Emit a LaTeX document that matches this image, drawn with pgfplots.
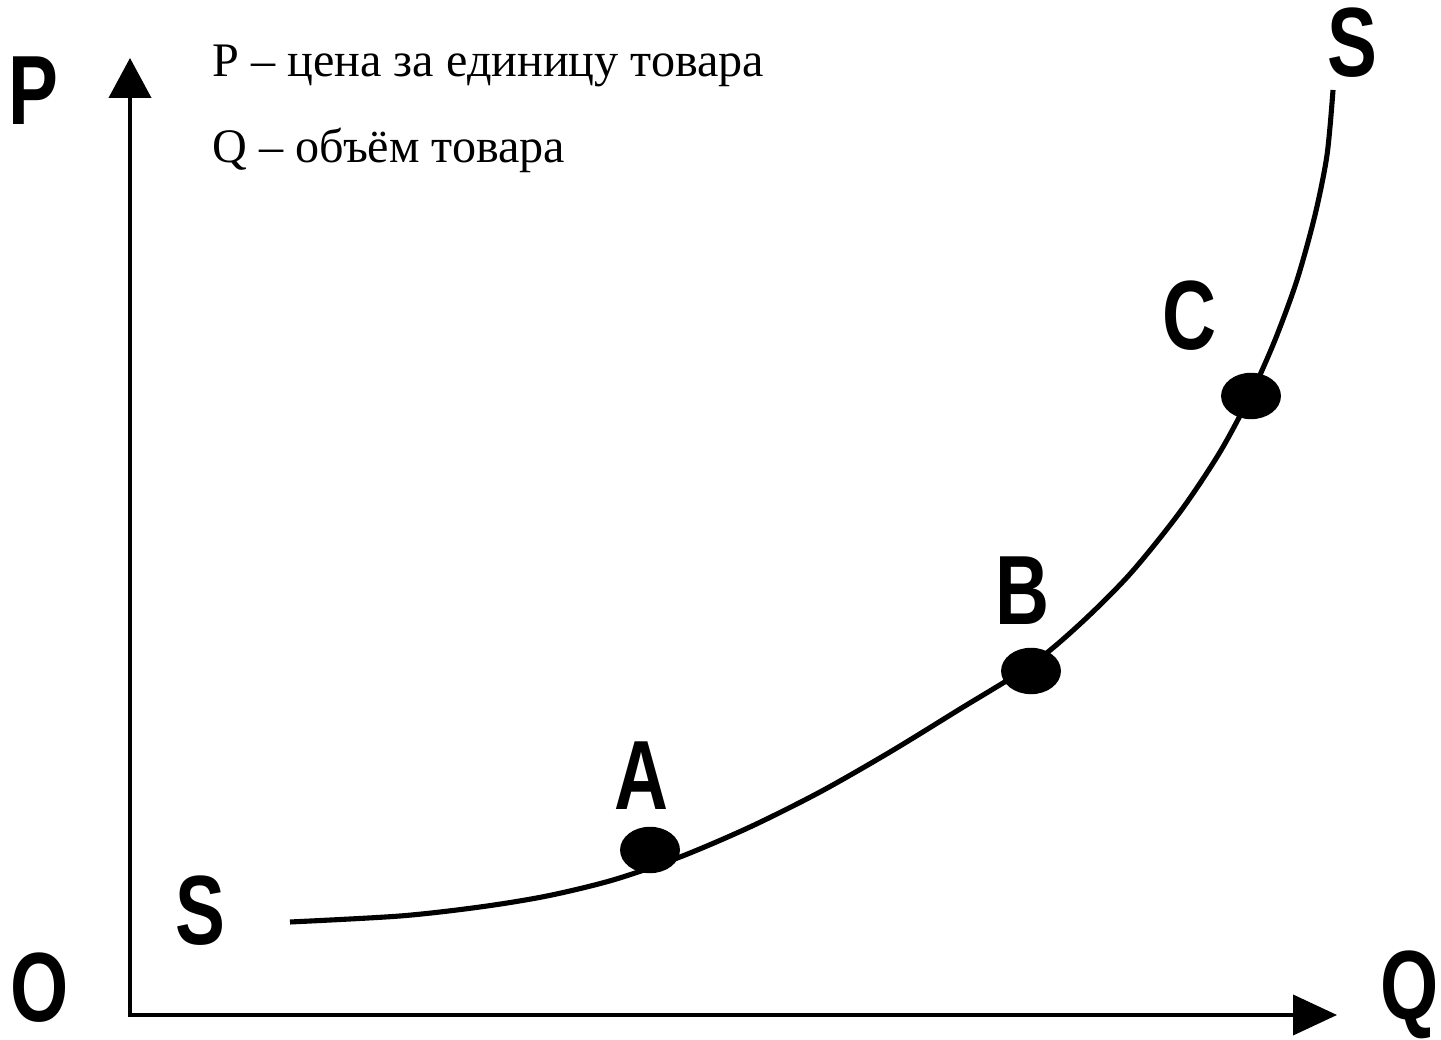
\documentclass[border=0pt]{standalone}
\usepackage{fontspec}
\setmainfont{Liberation Serif}
\newfontfamily\labfont[FakeStretch=0.76]{Liberation Sans}
\usepackage{pgfplots}
\pgfplotsset{compat=1.18}
\usetikzlibrary{arrows.meta}
\begin{document}
\begin{tikzpicture}
\begin{axis}[scale only axis, width=144.1mm, height=104mm,
  xmin=0, xmax=1441, ymin=0, ymax=1040, hide axis, clip=false]
\path (axis cs:0,0) rectangle (axis cs:1441,1040);
% axes
\addplot[black, line width=1.15pt, line join=miter,
  {Triangle[width=4.2mm,length=4mm]}-{Triangle[width=4mm,length=4.4mm]}]
  coordinates {(130,982) (130,25) (1337,25)};
% supply curve
\addplot[black, line width=1.45pt, smooth, tension=0.5] coordinates {
(290,118) (400,124) (480,133) (547,144) (613,160) (680,183) (750,213)
(820,248) (890,288) (960,331) (1031,375) (1080,416) (1130,466) (1180,528)
(1220,588) (1251,646) (1275,700) (1297,760) (1315,825) (1327,885) (1333,950)};
% points
\addplot[only marks, mark=*, mark size=6.4pt,
  mark options={xscale=1.3, fill=black, draw=black}]
  coordinates {(650,190) (1031,369) (1251,644)};
% labels
\tikzset{lab/.style={anchor=base, inner sep=0pt, font=\labfont\bfseries\fontsize{28}{30}\selectfont}}
\node[lab] at (axis cs:33,915) {P};
\node[lab] at (axis cs:40,18) {O};
\node[lab] at (axis cs:1410,20) {Q};
\node[lab] at (axis cs:1352,963) {S};
\node[lab] at (axis cs:200,95) {S};
\node[lab] at (axis cs:641,230) {A};
\node[lab] at (axis cs:1022,415) {B};
\node[lab] at (axis cs:1189,690) {C};
\node[anchor=base west, inner sep=0pt, font=\fontsize{13.7}{16}\selectfont]
  at (axis cs:212,963) {P – цена за единицу товара};
\node[anchor=base west, inner sep=0pt, font=\fontsize{13.7}{16}\selectfont]
  at (axis cs:212,877) {Q – объём товара};
\end{axis}
\end{tikzpicture}
\end{document}
